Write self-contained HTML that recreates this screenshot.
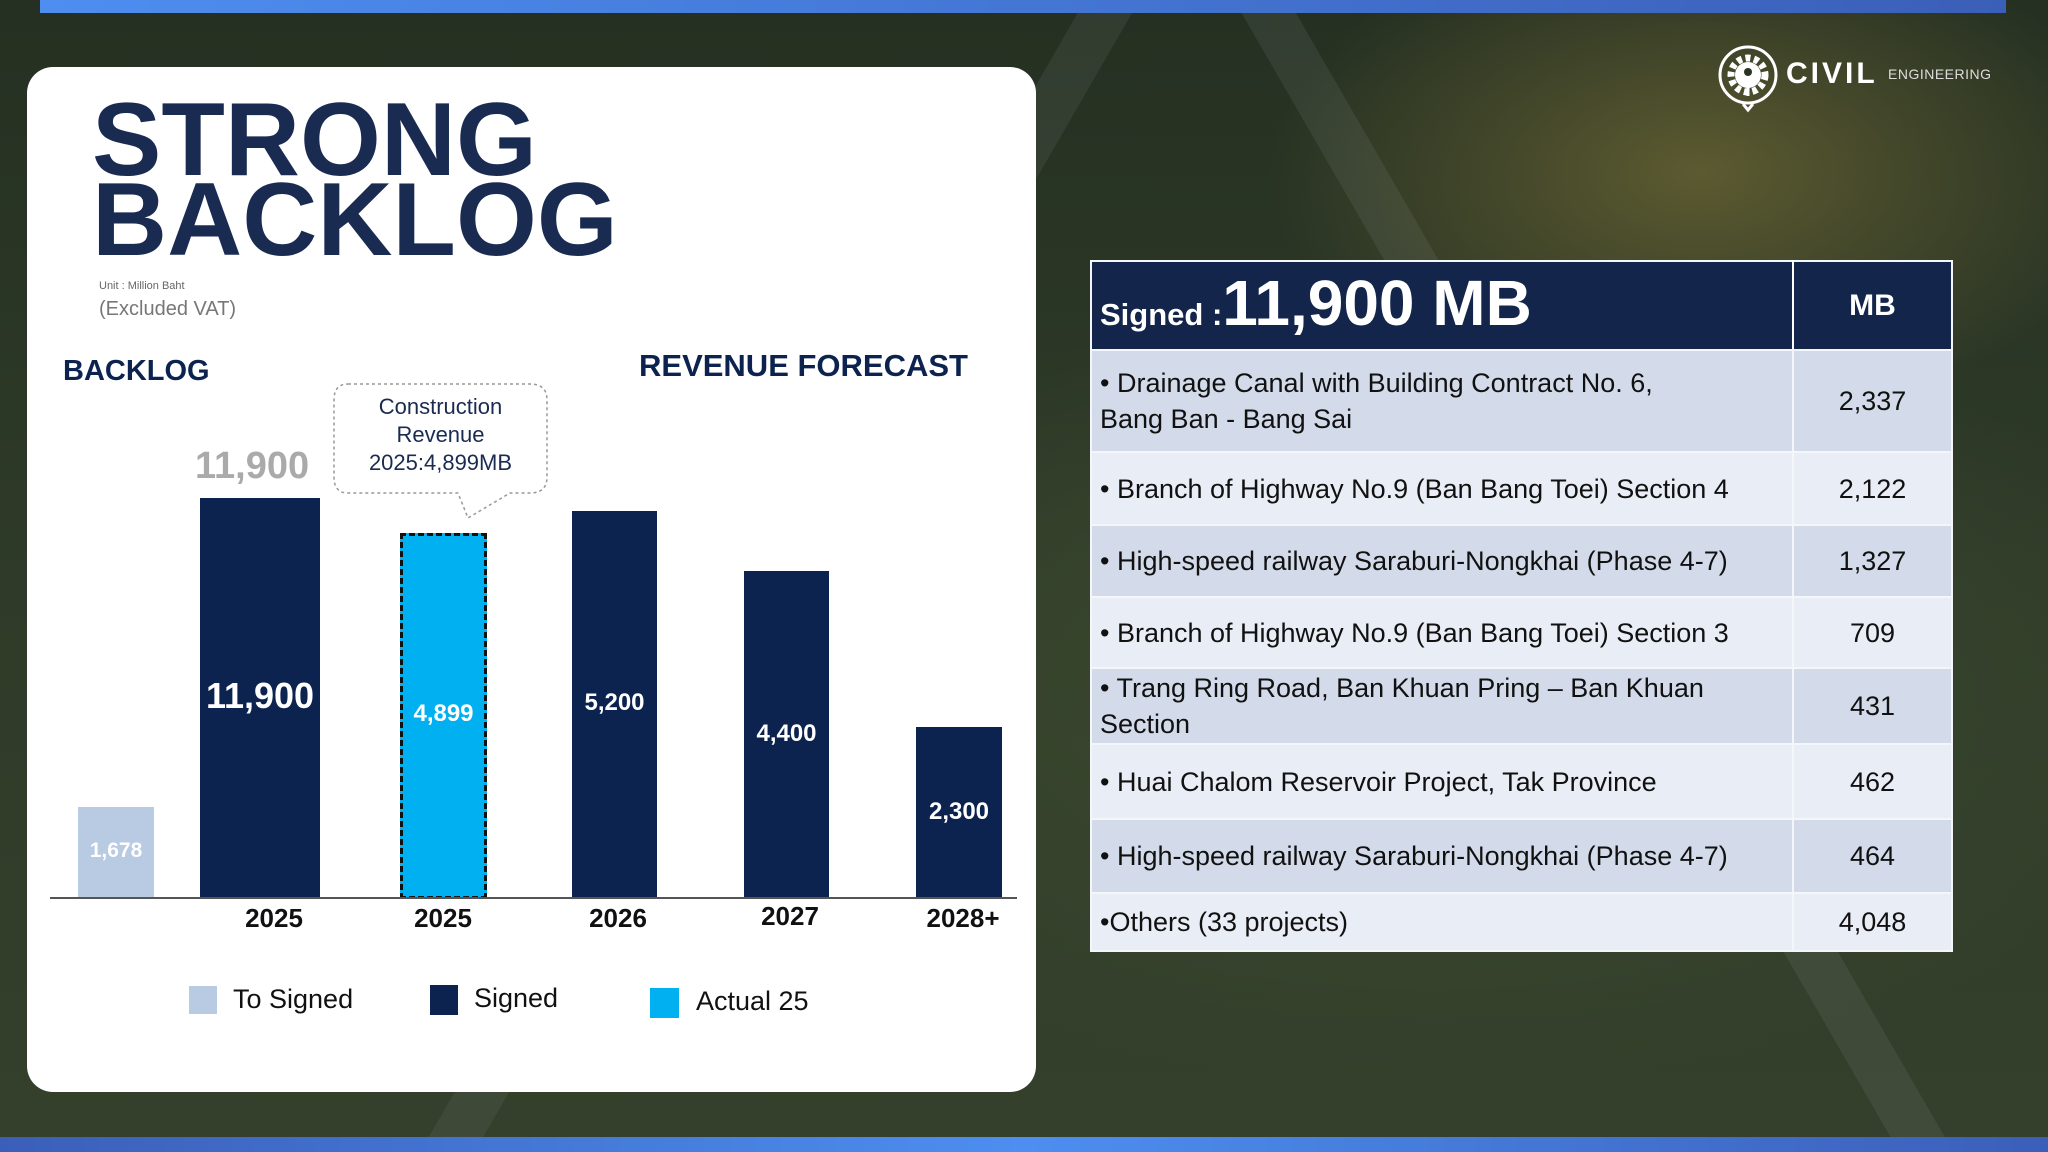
<!DOCTYPE html>
<html><head><meta charset="utf-8">
<style>
*{margin:0;padding:0;box-sizing:border-box}
body{width:2048px;height:1152px;overflow:hidden;position:relative;font-family:"Liberation Sans",sans-serif;
background:
linear-gradient(120deg, transparent 0 40%, rgba(140,150,150,.12) 40% 42%, transparent 42% 100%),
linear-gradient(60deg, transparent 0 70%, rgba(150,160,160,.12) 70% 72%, transparent 72%),
radial-gradient(ellipse at 83% 15%, #5c5a30 0, transparent 18%),
radial-gradient(ellipse at 70% 60%, #3d4a30 0, transparent 40%),
linear-gradient(180deg,#253022 0%,#2f3b28 50%,#34402b 100%);}
.a{position:absolute;white-space:nowrap}
.n{font-family:"Liberation Sans Narrow","Liberation Sans",sans-serif}
.bar{position:absolute;background:#0c2350}
.lbl{position:absolute;color:#fff;font-weight:bold;text-align:center;font-size:24px;line-height:30px}
.yr{position:absolute;top:902px;font-weight:bold;font-size:26px;line-height:32px;color:#111;width:120px;text-align:center}
table{position:absolute;left:1090px;top:260px;width:863px;border-collapse:collapse}
td{border:2px solid #f4f6fa;font-family:"Liberation Sans Narrow","Liberation Sans",sans-serif;font-size:27px;color:#111;padding:0 8px;line-height:36px}
td.v{text-align:center;width:159px}
tr.d td{background:#d3dbea}
tr.l td{background:#e9edf5}
</style></head><body>
<div class="a" style="left:40px;top:0;width:1966px;height:13px;background:linear-gradient(90deg,#4d8ef0,#3b5fb8)"></div>
<div class="a" style="left:0;top:1137px;width:2048px;height:15px;background:linear-gradient(90deg,#3b5fb8,#4d8ef0,#3b5fb8)"></div>

<div class="a" style="left:27px;top:67px;width:1009px;height:1025px;background:#fff;border-radius:26px"></div>
<div class="a" style="left:92px;top:100px;font-size:104px;font-weight:bold;line-height:80px;color:#1a2b52;letter-spacing:0px">STRONG<br>BACKLOG</div>
<div class="a n" style="left:99px;top:280px;font-size:11px;color:#666">Unit : Million Baht</div>
<div class="a n" style="left:99px;top:298px;font-size:20px;color:#777">(Excluded VAT)</div>
<div class="a" style="left:63px;top:354px;font-size:29px;font-weight:bold;color:#0c2350;line-height:34px">BACKLOG</div>
<div class="a" style="left:639px;top:348px;font-size:31px;font-weight:bold;color:#0c2350;line-height:36px">REVENUE FORECAST</div>

<svg class="a" style="left:330px;top:380px" width="224" height="145">
<path d="M18 4 H200 Q217 4 217 20 V97 Q217 113 200 113 H180 L138 138 L128 113 H18 Q4 113 4 97 V20 Q4 4 18 4Z" fill="#fff" stroke="#999" stroke-width="1.5" stroke-dasharray="3 3"/>
</svg>
<div class="a" style="left:334px;top:393px;width:213px;text-align:center;font-size:22px;line-height:28px;color:#1a2b52">Construction<br>Revenue<br>2025:4,899MB</div>

<div class="a" style="left:195px;top:443px;font-size:38px;font-weight:bold;color:#aaa;line-height:46px">11,900</div>

<div class="bar" style="left:78px;top:807px;width:76px;height:91px;background:#b8cbe3"></div>
<div class="lbl" style="left:78px;top:836px;width:76px;font-size:21px">1,678</div>
<div class="bar" style="left:200px;top:498px;width:120px;height:400px"></div>
<div class="lbl" style="left:200px;top:675px;width:120px;font-size:36px;line-height:42px">11,900</div>
<div class="bar" style="left:400px;top:533px;width:87px;height:366px;background:#00b0f0;border:3px dashed #111"></div>
<div class="lbl" style="left:400px;top:699px;width:87px">4,899</div>
<div class="bar" style="left:572px;top:511px;width:85px;height:387px"></div>
<div class="lbl" style="left:572px;top:688px;width:85px">5,200</div>
<div class="bar" style="left:744px;top:571px;width:85px;height:327px"></div>
<div class="lbl" style="left:744px;top:719px;width:85px">4,400</div>
<div class="bar" style="left:916px;top:727px;width:86px;height:171px"></div>
<div class="lbl" style="left:916px;top:797px;width:86px">2,300</div>
<div class="a" style="left:50px;top:897px;width:967px;height:2px;background:#555"></div>
<div class="yr" style="left:214px">2025</div>
<div class="yr" style="left:383px">2025</div>
<div class="yr" style="left:558px">2026</div>
<div class="yr" style="left:730px;top:900px">2027</div>
<div class="yr" style="left:903px">2028+</div>

<div class="a" style="left:189px;top:986px;width:28px;height:28px;background:#b8cbe3"></div>
<div class="a n" style="left:233px;top:983px;font-size:27px;line-height:32px;color:#111">To Signed</div>
<div class="a" style="left:430px;top:985px;width:28px;height:30px;background:#0c2350"></div>
<div class="a n" style="left:474px;top:982px;font-size:27px;line-height:32px;color:#111">Signed</div>
<div class="a" style="left:650px;top:988px;width:29px;height:30px;background:#00b0f0"></div>
<div class="a n" style="left:696px;top:985px;font-size:27px;line-height:32px;color:#111">Actual 25</div>

<svg class="a" style="left:1716px;top:44px" width="64" height="70">
<circle cx="32" cy="31" r="28" fill="none" stroke="#fff" stroke-width="3"/>
<circle cx="32" cy="31" r="17" fill="none" stroke="#fff" stroke-width="7" stroke-dasharray="5 3.6"/>
<circle cx="32" cy="31" r="13" fill="#fff"/>
<circle cx="32" cy="28" r="4" fill="#2a3324"/>
<path d="M32 32 V52 M27 60 L32 66 L37 60" stroke="#fff" stroke-width="3" fill="none"/>
</svg>
<div class="a" style="left:1786px;top:56px;font-size:30px;font-weight:bold;color:#fff;letter-spacing:3px;line-height:36px">CIVIL</div>
<div class="a" style="left:1888px;top:65px;font-size:14px;color:#ddd;letter-spacing:0.5px;line-height:18px">ENGINEERING</div>

<table>
<tr style="height:89px"><td style="background:#13254a;color:#fff;font-family:'Liberation Sans',sans-serif;font-weight:bold;font-size:31px;vertical-align:bottom;padding-bottom:14px;border-right:2px solid #fff">Signed :<span style="font-size:64px;line-height:64px">11,900 MB</span></td><td class="v" style="background:#13254a;color:#fff;font-family:'Liberation Sans',sans-serif;font-weight:bold;font-size:30px">MB</td></tr>
<tr class="d" style="height:102px"><td>• Drainage Canal with Building Contract No. 6,<br>Bang Ban - Bang Sai</td><td class="v">2,337</td></tr>
<tr class="l" style="height:73px"><td>• Branch of Highway No.9 (Ban Bang Toei) Section 4</td><td class="v">2,122</td></tr>
<tr class="d" style="height:72px"><td>• High-speed railway Saraburi-Nongkhai (Phase 4-7)</td><td class="v">1,327</td></tr>
<tr class="l" style="height:71px"><td>• Branch of Highway No.9 (Ban Bang Toei) Section 3</td><td class="v">709</td></tr>
<tr class="d" style="height:76px"><td>• Trang Ring Road, Ban Khuan Pring – Ban Khuan<br>Section</td><td class="v">431</td></tr>
<tr class="l" style="height:75px"><td>• Huai Chalom Reservoir Project, Tak Province</td><td class="v">462</td></tr>
<tr class="d" style="height:74px"><td>• High-speed railway Saraburi-Nongkhai (Phase 4-7)</td><td class="v">464</td></tr>
<tr class="l" style="height:58px"><td>•Others (33 projects)</td><td class="v">4,048</td></tr>
</table>
</body></html>
